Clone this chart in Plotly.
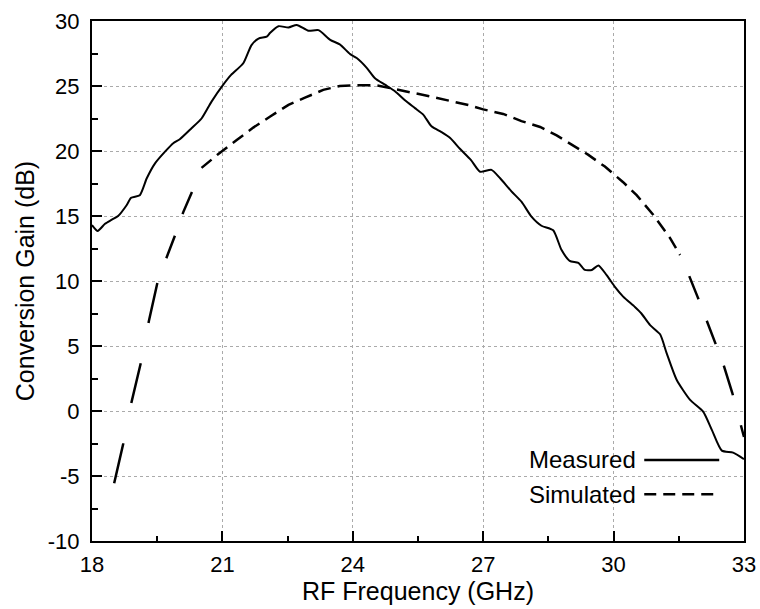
import plotly.graph_objects as go

# Measured conversion gain
meas_x = [18.0, 18.13, 18.3, 18.45, 18.6, 18.8, 18.9, 19.1, 19.26, 19.45, 19.68, 19.87, 20.02,
          20.29, 20.52, 20.75, 21.02, 21.2, 21.48, 21.67, 21.83, 22.02, 22.1, 22.29, 22.52, 22.71,
          22.98, 23.21, 23.48, 23.7, 23.94, 24.09, 24.32, 24.51, 24.74, 24.97, 25.2, 25.43, 25.62,
          25.81, 26.04, 26.24, 26.47, 26.72, 26.93, 27.19, 27.39, 27.65, 27.88, 28.11, 28.34, 28.61,
          28.8, 28.99, 29.19, 29.34, 29.5, 29.65, 29.84, 30.03, 30.22, 30.49, 30.64, 30.84, 31.07,
          31.22, 31.45, 31.76, 32.06, 32.26, 32.49, 32.75, 33.0]
meas_y = [14.3, 13.85, 14.4, 14.7, 15.0, 15.85, 16.4, 16.6, 17.9, 19.05, 19.95, 20.6, 20.9,
          21.75, 22.5, 23.8, 25.1, 25.85, 26.75, 28.15, 28.65, 28.8, 29.1, 29.6, 29.5, 29.7,
          29.25, 29.3, 28.55, 28.2, 27.45, 27.15, 26.4, 25.6, 25.1, 24.6, 23.9, 23.3, 22.8,
          21.9, 21.45, 21.0, 20.15, 19.3, 18.4, 18.55, 17.9, 16.9, 16.1, 14.95, 14.25, 13.9,
          12.4, 11.55, 11.4, 10.85, 10.85, 11.2, 10.45, 9.55, 8.8, 8.0, 7.5, 6.6, 5.9,
          4.45, 2.4, 0.85, -0.05, -1.45, -3.05, -3.2, -3.7]

# Simulated conversion gain
sim_x = [18.51, 18.72, 18.91, 19.13, 19.31, 19.52, 19.72, 19.91, 20.1, 20.32, 20.52, 20.9, 21.33,
         21.71, 22.1, 22.52, 22.9, 23.32, 23.7, 24.09, 24.55, 24.93, 25.32, 25.78, 26.24, 26.7,
         27.0, 27.46, 27.88, 28.31, 28.69, 29.03, 29.42, 29.8, 30.22, 30.53, 30.91, 31.3, 31.53,
         31.72, 31.93, 32.13, 32.33, 32.52, 32.73, 32.91, 33.0]
sim_y = [-5.56, -2.5, 0.7, 3.8, 6.95, 10.1, 11.8, 13.5, 15.3, 17.0, 18.7, 19.75, 20.85,
         21.8, 22.65, 23.55, 24.1, 24.7, 25.0, 25.05, 25.05, 24.8, 24.5, 24.2, 23.85, 23.5,
         23.2, 22.85, 22.3, 21.85, 21.2, 20.5, 19.7, 18.8, 17.6, 16.6, 15.1, 13.3, 12.0,
         10.55, 8.8, 7.1, 5.35, 3.65, 1.4, -0.95, -2.0]

series_names = ["Measured", "Simulated"]
x_ticks = [18, 21, 24, 27, 30, 33]
y_ticks = [-10, -5, 0, 5, 10, 15, 20, 25, 30]

FONT = "Liberation Sans, Arial, sans-serif"
DASH = "13px,7px"

fig = go.Figure()
fig.add_trace(go.Scatter(x=meas_x, y=meas_y, mode="lines", name=series_names[0],
                         line=dict(color="black", width=2, shape="spline", smoothing=0.6),
                         showlegend=False))

# The simulated curve was drawn with a dash pattern that varies along its length
# (long dashes on the steep rising edge); reproduce with piecewise dash styles.
sim_breaks = [0, 5, 10, 38, len(sim_x) - 1]
sim_dashes = ["41px,41px",
              "0px,23px,24px,23px,24px,40px",
              DASH,
              "0px,23px,25px,23px,25px,23px,31px,31px,40px"]
for i, dsh in enumerate(sim_dashes):
    a, b = sim_breaks[i], sim_breaks[i + 1]
    fig.add_trace(go.Scatter(x=sim_x[a:b + 1], y=sim_y[a:b + 1], mode="lines", name=series_names[1],
                             line=dict(color="black", width=2.5, dash=dsh), showlegend=False))

axis_common = dict(
    showline=True, linecolor="black", linewidth=2, mirror=True,
    ticks="inside", tickcolor="black", tickwidth=2, ticklen=10,
    showgrid=True, gridcolor="#aaaaaa", gridwidth=1, griddash="dot",
    zeroline=False, automargin=False,
    tickfont=dict(family=FONT, size=22, color="black"),
)

fig.update_xaxes(
    range=[18, 33], tickvals=x_ticks, ticktext=[str(v) for v in x_ticks],
    title=dict(text="RF Frequency (GHz)", font=dict(family=FONT, size=25, color="black"), standoff=4),
    minor=dict(ticks="inside", ticklen=5, tickwidth=2, tickcolor="black", dtick=1.5, tick0=18, showgrid=False),
    ticklabelstandoff=3,
    **axis_common,
)
fig.update_yaxes(
    range=[-10, 30], tickvals=y_ticks, ticktext=[str(v) for v in y_ticks],
    title=dict(text="Conversion Gain (dB)", font=dict(family=FONT, size=25, color="black"), standoff=6),
    minor=dict(ticks="inside", ticklen=6, tickwidth=2, tickcolor="black", dtick=2.5, tick0=0, showgrid=False),
    ticklabelstandoff=6,
    **axis_common,
)

# Legend: text on the left, line sample on the right
legend_y = [0.156, 0.090]
legend_dash = ["solid", "12px,7px"]
for name, yy, dsh in zip(series_names, legend_y, legend_dash):
    fig.add_annotation(x=0.838, y=yy, xref="paper", yref="paper", text=name, showarrow=False,
                       xanchor="right", yanchor="middle",
                       font=dict(family=FONT, size=24, color="black"))
    fig.add_shape(type="line", xref="paper", yref="paper", x0=0.847, x1=0.962, y0=yy, y1=yy,
                  line=dict(color="black", width=2.5, dash=dsh))

fig.update_layout(
    width=760, height=609,
    margin=dict(l=92, r=16, t=21, b=68),
    paper_bgcolor="white", plot_bgcolor="white",
    font=dict(family=FONT, color="black"),
)

fig.write_html("out.html", config={"displayModeBar": False},
               post_script="document.body.style.margin='0';document.body.style.overflow='hidden';")
